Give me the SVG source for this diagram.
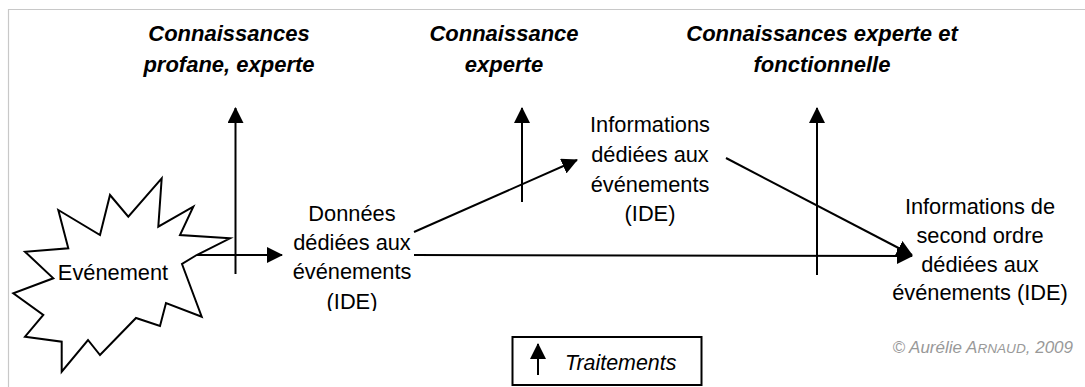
<svg xmlns="http://www.w3.org/2000/svg" width="1085" height="387" viewBox="0 0 1085 387">
<defs>
<style>
.frame{stroke:#c8c8c8;stroke-width:1.2;fill:none}
.ln{stroke:#000;stroke-width:2;fill:none}
.head{font-family:"Liberation Sans",Arial,sans-serif;font-size:22px;font-weight:bold;font-style:italic;fill:#000;text-anchor:middle}
.lbl{font-family:"Liberation Sans",Arial,sans-serif;font-size:21.8px;fill:#000;text-anchor:middle}
.leg{font-family:"Liberation Sans",Arial,sans-serif;font-size:21.4px;font-style:italic;fill:#000}
.copy{font-family:"Liberation Sans",Arial,sans-serif;font-size:17px;font-style:italic;fill:#999}
</style>
<marker id="ah" markerUnits="userSpaceOnUse" markerWidth="16" markerHeight="16" refX="15" refY="8" orient="auto" viewBox="0 0 16 16">
<path d="M0,0 L16,8 L0,16 z" fill="#000"/>
</marker>
<clipPath id="clipD"><rect x="250" y="180" width="200" height="131"/></clipPath>
</defs>
<g id="frame">
<line class="frame" x1="8" y1="9.5" x2="1085" y2="9.5"/>
<line class="frame" x1="8.5" y1="9" x2="8.5" y2="387"/>
</g>
<g id="evenement">
<polygon class="ln" points="161.7,178.3 158.3,226.7 193.3,206.7 180,235 230,238.3 196.7,255 182,264 201.7,316.7 166,303 160,326 136,318 100,355 88,340 61.7,371.7 61.7,341.7 25,336.7 43.3,315 13.3,293.3 53.3,278.3 25,251.7 68.3,248.3 58.3,210 100,235 110,195 128.3,216.7" fill="#fff"/>
<text class="lbl" x="113" y="280" font-size="23.5px">Evénement</text>
</g>
<g id="heading1">
<text class="head" x="229" y="41">Connaissances</text>
<text class="head" x="229" y="72">profane, experte</text>
</g>
<g id="heading2">
<text class="head" x="504" y="41">Connaissance</text>
<text class="head" x="504" y="72">experte</text>
</g>
<g id="heading3">
<text class="head" x="822" y="41">Connaissances experte et</text>
<text class="head" x="822" y="72">fonctionnelle</text>
</g>
<g id="donnees" clip-path="url(#clipD)">
<text class="lbl" x="352" y="221">Données</text>
<text class="lbl" x="352" y="250">dédiées aux</text>
<text class="lbl" x="352" y="279">événements</text>
<text class="lbl" x="352" y="309">(IDE)</text>
</g>
<g id="informations">
<text class="lbl" x="650" y="132">Informations</text>
<text class="lbl" x="650" y="162">dédiées aux</text>
<text class="lbl" x="650" y="192">événements</text>
<text class="lbl" x="650" y="221">(IDE)</text>
</g>
<g id="informations2">
<text class="lbl" x="980" y="214">Informations de</text>
<text class="lbl" x="980" y="243">second ordre</text>
<text class="lbl" x="980" y="272">dédiées aux</text>
<text class="lbl" x="980" y="300">événements (IDE)</text>
</g>
<g id="connectors">
<line class="ln" x1="235.5" y1="274" x2="235.5" y2="108" marker-end="url(#ah)"/>
<line class="ln" x1="522" y1="202" x2="522" y2="108" marker-end="url(#ah)"/>
<line class="ln" x1="817" y1="275" x2="817" y2="108" marker-end="url(#ah)"/>
<line class="ln" x1="197" y1="255" x2="282" y2="255" marker-end="url(#ah)"/>
<line class="ln" x1="414" y1="232" x2="577" y2="160" marker-end="url(#ah)"/>
<line class="ln" x1="414" y1="255" x2="912" y2="256" marker-end="url(#ah)"/>
<line class="ln" x1="726" y1="158" x2="912" y2="255" marker-end="url(#ah)"/>
</g>
<g id="legend">
<rect x="512.5" y="337" width="189" height="48" fill="none" stroke="#000" stroke-width="2"/>
<line class="ln" x1="538" y1="375" x2="538" y2="344" marker-end="url(#ah)"/>
<text class="leg" x="565" y="370">Traitements</text>
</g>
<g id="copyright">
<text class="copy" x="1073" y="353" text-anchor="end">© Aurélie A<tspan font-size="13.6">RNAUD</tspan>, 2009</text>
</g>
</svg>
